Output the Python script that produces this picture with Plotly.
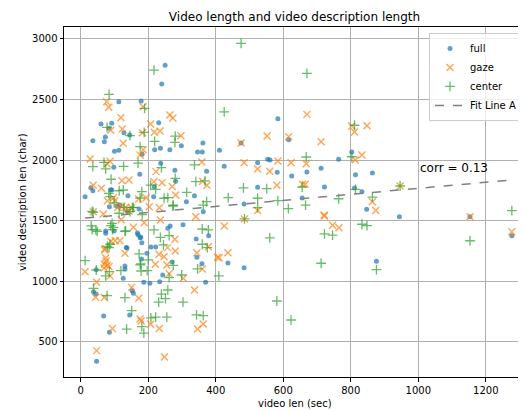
import plotly.graph_objects as go

# ---- data ----
full_x = [250, 240, 113, 179, 60, 92, 231, 73, 36, 70, 128, 145, 100, 113, 219, 236, 264, 298, 362, 346,
          360, 411, 237, 98, 279, 373, 175, 30, 36, 92, 13, 85, 140, 216, 218, 173, 313, 337, 363, 116,
          74, 74, 99, 258, 265, 303, 170, 176, 181, 379, 342, 137, 208, 222, 196, 180, 271, 344, 131, 131,
          46, 359, 243, 126, 187, 205, 234, 370, 38, 45, 152, 156, 68, 145, 85, 47,
          584, 616, 803, 554, 561, 764, 524, 425, 582, 670, 712, 625, 814, 864, 524, 722, 811, 833, 656, 484,
          847, 475, 944, 436, 484, 876, 1153, 1277, 84, 182, 89, 108, 138, 168, 178, 135, 281]
full_y = [2782, 2628, 2482, 2487, 2297, 2303, 2308, 2190, 2160, 2151, 2226, 2207, 2072, 2080, 2085, 2097, 2085, 2118, 2140, 2066,
          2066, 2080, 1973, 1940, 1915, 1907, 1882, 1771, 1746, 1752, 1697, 1614, 1705, 1697, 1780, 1595, 1656, 1705, 1573, 1628,
          1414, 1395, 1414, 1436, 1455, 1466, 1383, 1358, 1317, 1375, 1347, 1273, 1281, 1281, 1229, 1182, 1157, 1196, 1124, 1100,
          1094, 1143, 1050, 1023, 990, 981, 995, 990, 912, 893, 920, 899, 711, 720, 577, 337,
          2341, 2168, 2066, 2006, 2000, 2006, 1978, 1948, 1898, 1901, 1931, 1868, 1879, 1893, 1774, 1777, 1769, 1738, 1686, 1637,
          1593, 2140, 1532, 1149, 1110, 1163, 1532, 1375, 2262, 2047, 1755, 1618, 1576, 1397, 1361, 1278, 1824]

gaze_x = [77, 83, 185, 119, 264, 273, 123, 89, 207, 218, 235, 183, 297, 126, 185, 176, 28, 87, 78, 223,
          359, 122, 143, 217, 241, 361, 374, 37, 61, 271, 281, 97, 172, 194, 122, 151, 203, 233, 37,
          67, 156, 188, 236, 341, 102, 116, 279, 71, 131, 232, 257, 280, 344, 405, 75, 70, 84, 87, 13,
          221, 247, 255, 360, 262, 304, 47, 337, 151, 172, 44, 70, 176, 179, 94, 207, 233, 346, 363, 47, 248,
          670, 552, 616, 475, 712, 803, 811, 848, 833, 813, 484, 584, 623, 668, 524, 560, 581, 657, 665, 524,
          864, 874, 721, 485, 722, 746, 765, 425, 378, 436, 410, 946, 1153, 1277,
          79, 101, 110, 133, 143, 120, 89, 72, 74, 79, 69]
gaze_y = [2482, 2435, 2440, 2349, 2372, 2347, 2256, 2245, 2297, 2229, 2240, 2226, 2201, 2138, 2085, 2041, 2008, 1989, 1967, 1904,
          1983, 1829, 1835, 1821, 1813, 1824, 1791, 1791, 1766, 1782, 1711, 1689, 1678, 1689, 1614, 1606, 1614, 1606, 1573,
          1554, 1444, 1482, 1504, 1532, 1333, 1333, 1345, 1257, 1229, 1221, 1276, 1248, 1234, 1196, 1166, 1138, 1119, 1042, 1077,
          1138, 1201, 1133, 1100, 1061, 1023, 990, 926, 948, 858, 866, 863, 687, 670, 607, 643, 607, 604, 645, 425, 373,
          2377, 2198, 2193, 2140, 2151, 2281, 2231, 2283, 2041, 2000, 1978, 1992, 1978, 1970, 1926, 1907, 1791, 1800, 1800, 1582,
          1656, 1582, 1546, 1513, 1537, 1460, 1441, 1455, 1284, 1234, 1193, 1785, 1532, 1408,
          1664, 1664, 1609, 1609, 1576, 1507, 1328, 1267, 1190, 1130, 1108]

center_x = [217, 84, 189, 78, 188, 280, 279, 219, 176, 170, 36, 69, 74, 127, 239, 337, 90, 280, 341, 368,
            207, 222, 114, 126, 181, 83, 87, 314, 247, 258, 176, 274, 363, 373, 153, 37, 146,
            114, 146, 156, 273, 31, 45, 93, 97, 133, 217, 236, 262, 245, 360, 378, 360, 375, 87, 84,
            173, 200, 274, 176, 179, 197, 119, 46, 85, 74, 13, 346, 262, 299, 409, 38, 258, 239, 251,
            231, 131, 78, 303, 151, 208, 222, 255, 343, 363, 181, 187, 136,
            475, 670, 425, 811, 668, 803, 482, 551, 437, 524, 584, 656, 666, 524, 615, 764, 814, 864,
            485, 833, 848, 722, 746, 560, 712, 876, 581, 623, 946, 1277, 1153,
            34, 99, 128, 182, 34, 89, 94, 131, 49, 79, 178]
center_y = [2743, 2543, 2427, 2270, 2229, 2198, 2146, 2154, 2110, 1975, 1945, 1981, 1926, 1948, 1937, 1959, 1841, 1849, 1821, 1827,
            1793, 1758, 1746, 1752, 1738, 1725, 1697, 1733, 1684, 1689, 1686, 1626, 1628, 1656, 1606, 1568, 2201,
            1560, 1573, 1609, 1620, 1455, 1422, 1477, 1444, 1414, 1422, 1361, 1375, 1298, 1430, 1422, 1304, 1276, 1304, 1276,
            1224, 1174, 1130, 1133, 1083, 1086, 1086, 1091, 1077, 1042, 1168, 1100, 1028, 1050, 1042, 940, 926, 891, 854,
            825, 863, 879, 825, 755, 695, 701, 701, 720, 714, 623, 569, 602,
            2964, 2716, 2397, 2287, 2025, 2027, 1769, 1763, 1689, 1684, 1664, 1777, 1628, 1606, 1598, 1680, 1758, 1694,
            1513, 1469, 1457, 1389, 1380, 1356, 1147, 1094, 835, 678, 1785, 1581, 1333,
            1576, 1645, 1609, 1548, 1424, 1457, 1424, 1411, 1411, 1287, 1141]

fit_x = [13, 1277]
fit_y = [1520, 1835]
corr_text = "corr = 0.13"

x_ticks = [0, 200, 400, 600, 800, 1000, 1200]
y_ticks = [500, 1000, 1500, 2000, 2500, 3000]

FONT = "DejaVu Sans"

fig = go.Figure()
fig.add_trace(go.Scatter(x=full_x, y=full_y, mode="markers", name="full",
                         marker=dict(symbol="circle", size=5, color="#1f77b4", opacity=0.7,
                                     line=dict(width=0))))
fig.add_trace(go.Scatter(x=gaze_x, y=gaze_y, mode="markers", name="gaze",
                         marker=dict(symbol="x-thin", size=7, color="#ff7f0e", opacity=0.7,
                                     line=dict(width=1.4, color="#ff7f0e"))))
fig.add_trace(go.Scatter(x=center_x, y=center_y, mode="markers", name="center",
                         marker=dict(symbol="cross-thin", size=7, color="#2ca02c", opacity=0.7,
                                     line=dict(width=1.3, color="#2ca02c"))))
fig.add_trace(go.Scatter(x=fit_x, y=fit_y, mode="lines", name="Fit Line A",
                         line=dict(color="gray", width=1.5, dash="dash")))

fig.add_annotation(x=1000, y=1934, text=corr_text, showarrow=False, xanchor="left", yanchor="middle",
                   font=dict(family=FONT, size=12, color="black"))

# axis titles as paper-anchored texts
fig.add_annotation(xref="paper", yref="paper", x=0.5, y=-0.077, text="video len (sec)",
                   showarrow=False, xanchor="center", yanchor="middle",
                   font=dict(family=FONT, size=10, color="black"))
fig.add_annotation(xref="paper", yref="paper", x=-0.091, y=0.5, text="video description len (char)",
                   showarrow=False, xanchor="center", yanchor="middle", textangle=-90,
                   font=dict(family=FONT, size=10, color="black"))

axis_common = dict(showgrid=True, gridcolor="#b0b0b0", gridwidth=1, zeroline=False,
                   showline=True, linecolor="black", linewidth=1, mirror=True,
                   ticks="outside", ticklen=3.5, tickcolor="black", tickwidth=1,
                   tickfont=dict(family=FONT, size=10, color="black"))

fig.update_layout(
    width=518, height=403,
    margin=dict(l=56, r=1, t=19, b=34, autoexpand=False),
    paper_bgcolor="white", plot_bgcolor="white",
    font=dict(family=FONT, size=10, color="black"),
    title=dict(text="Video length and video description length", xref="paper", x=0.5,
               xanchor="center", y=0.978, yanchor="middle",
               font=dict(family=FONT, size=12, color="black")),
    xaxis=dict(range=[-49.5, 1316], tickvals=x_ticks, **axis_common),
    yaxis=dict(range=[207, 3099], tickvals=y_ticks, **axis_common),
    legend=dict(x=0.9935, y=0.983, xanchor="right", yanchor="top",
                bgcolor="rgba(255,255,255,0.8)", bordercolor="#cccccc", borderwidth=1,
                font=dict(family=FONT, size=10, color="black"), tracegroupgap=0,
                itemwidth=30),
    showlegend=True,
)

fig.write_html("out.html")
